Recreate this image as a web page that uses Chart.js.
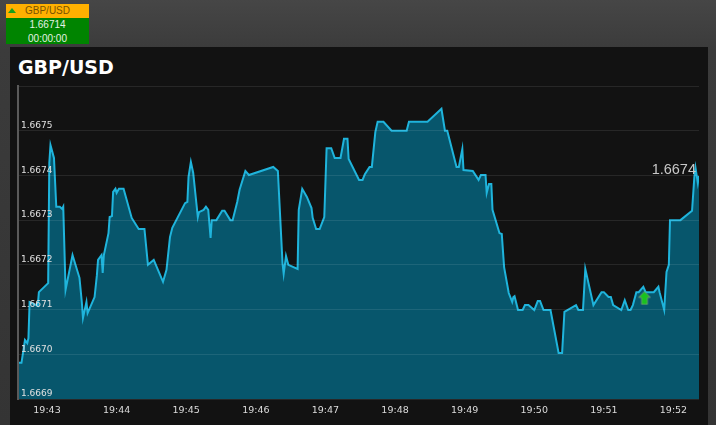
<!DOCTYPE html>
<html lang="en">
<head>
<meta charset="UTF-8">
<title>GBP/USD</title>
<script src="https://cdn.jsdelivr.net/npm/chart.js"></script>
<style>
    html, body { margin: 0; padding: 0; width: 716px; height: 425px; overflow: hidden; }
    body { background: linear-gradient(#464646, #3b3b3b 50px, #343434); font-family: 'Liberation Sans', sans-serif; position: relative; }
    .quote { position: absolute; left: 6px; top: 4px; width: 83px; height: 40px; background: #008400; color: #e4f2e4; font-size: 10px; text-align: center; }
    .quote .head { height: 14px; line-height: 14px; background: #ffb000; color: #7a5200; position: relative; }
    .quote .head i { position: absolute; left: 2px; top: 4px; width: 0; height: 0; border-left: 4px solid transparent; border-right: 4px solid transparent; border-bottom: 5px solid #1aa01a; }
    .quote .row { height: 13.5px; line-height: 13.5px; }
    .panel { position: absolute; left: 10px; top: 47px; width: 698px; height: 378px; background: #121212; }
    .panel h1 { position: absolute; left: 8px; top: 9px; margin: 0; color: #fff; font: bold 19px 'DejaVu Sans', sans-serif; }
    canvas { position: absolute; left: 0; top: 0; }
</style>
</head>
<body>
<div class="quote">
    <div class="head"><i></i>GBP/USD</div>
    <div class="row">1.66714</div>
    <div class="row">00:00:00</div>
</div>
<div class="panel">
    <h1>GBP/USD</h1>
    <canvas id="chart" width="698" height="378"></canvas>
</div>
<script>
    // seconds after 19:42:00
    const seconds = [35,38,41,43,44,45,52,53,61,62,63,66,68,71,73,74,76,82,88,90,91,94,95,101,103,104,107,108,109,113,114,116,117,119,120,122,126,133,139,144,147,152,160,163,166,168,179,181,182,184,186,190,191,195,197,199,201,202,206,211,213,218,220,224,226,231,234,255,259,263,264,266,268,276,277,280,284,288,289,292,295,299,301,305,308,313,316,319,320,329,332,334,338,340,343,345,350,357,370,372,388,400,403,405,413,415,418,419,427,432,434,438,439,441,443,444,450,452,454,458,461,462,463,466,470,472,475,480,483,485,488,494,501,504,506,516,518,522,524,531,538,540,544,546,548,555,558,561,563,565,568,570,574,576,583,587,588,592,594,596,597,606,616,618,619,621,622];
    const prices = [1.666981,1.666981,1.667032,1.667025,1.667036,1.667117,1.667108,1.667139,1.667159,1.667428,1.667468,1.667439,1.667330,1.667330,1.667325,1.667330,1.667144,1.667222,1.667171,1.667117,1.667081,1.667117,1.667092,1.667128,1.667177,1.667211,1.667222,1.667182,1.667222,1.667271,1.667307,1.667309,1.667363,1.667370,1.667361,1.667370,1.667370,1.667305,1.667280,1.667280,1.667200,1.667211,1.667162,1.667189,1.667262,1.667283,1.667338,1.667341,1.667397,1.667430,1.667406,1.667307,1.667318,1.667323,1.667330,1.667323,1.667260,1.667300,1.667300,1.667321,1.667321,1.667300,1.667300,1.667341,1.667368,1.667410,1.667401,1.667419,1.667410,1.667204,1.667180,1.667220,1.667200,1.667191,1.667323,1.667370,1.667352,1.667327,1.667305,1.667280,1.667280,1.667307,1.667461,1.667461,1.667439,1.667439,1.667482,1.667482,1.667437,1.667390,1.667390,1.667403,1.667419,1.667419,1.667497,1.667520,1.667520,1.667500,1.667500,1.667520,1.667520,1.667549,1.667500,1.667500,1.667419,1.667419,1.667459,1.667412,1.667410,1.667390,1.667401,1.667401,1.667361,1.667381,1.667381,1.667323,1.667271,1.667269,1.667195,1.667137,1.667117,1.667128,1.667130,1.667099,1.667099,1.667110,1.667110,1.667099,1.667119,1.667119,1.667099,1.667099,1.667003,1.667003,1.667095,1.667110,1.667099,1.667099,1.667191,1.667110,1.667139,1.667139,1.667128,1.667128,1.667110,1.667099,1.667121,1.667099,1.667099,1.667110,1.667139,1.667139,1.667151,1.667139,1.667139,1.667151,1.667139,1.667099,1.667184,1.667200,1.667300,1.667300,1.667321,1.667397,1.667417,1.667383,1.667399];
    const timeLabels = ['19:43','19:44','19:45','19:46','19:47','19:48','19:49','19:50','19:51','19:52'];
    const lastPrice = '1.6674';
    const arrowSecond = 575;
    const arrowPrice = 1.667126;

    // green up arrow used as the trade marker
    const arrow = document.createElement('canvas');
    arrow.width = 14;
    arrow.height = 15;
    const a = arrow.getContext('2d');
    a.fillStyle = '#19c21f';
    a.strokeStyle = 'rgba(150,150,150,0.6)';
    a.beginPath();
    a.moveTo(7, 1);
    a.lineTo(13, 7);
    a.lineTo(10, 7);
    a.lineTo(10, 14);
    a.lineTo(4, 14);
    a.lineTo(4, 7);
    a.lineTo(1, 7);
    a.closePath();
    a.fill();
    a.stroke();

    const lastLabel = {
        id: 'lastLabel',
        afterDatasetsDraw(chart) {
            const c = chart.ctx;
            c.save();
            c.font = "14.5px 'Liberation Sans'";
            c.fillStyle = '#c8c8c8';
            c.textAlign = 'right';
            c.textBaseline = 'bottom';
            c.fillText(lastPrice, chart.chartArea.right - 3, chart.scales.y.getPixelForValue(1.6674) + 2);
            c.restore();
        }
    };

    new Chart(document.getElementById('chart'), {
        type: 'line',
        data: {
            datasets: [{
                data: seconds.map((s, i) => ({ x: s, y: prices[i] })),
                borderColor: '#1fb4dc',
                backgroundColor: '#07566c',
                borderWidth: 2,
                pointRadius: 0,
                tension: 0,
                fill: 'start',
                order: 2
            }, {
                data: [{ x: arrowSecond, y: arrowPrice }],
                showLine: false,
                pointStyle: arrow,
                pointRadius: 7,
                order: 1
            }]
        },
        plugins: [lastLabel],
        options: {
            responsive: false,
            animation: false,
            layout: { padding: { left: 8, right: 9, top: 39, bottom: 0 } },
            plugins: { legend: { display: false }, tooltip: { enabled: false } },
            scales: {
                x: {
                    type: 'linear',
                    min: 35,
                    max: 622,
                    afterFit(scale) { scale.height = 26; },
                    grid: { display: false, drawTicks: false },
                    border: { display: false },
                    ticks: {
                        stepSize: 60,
                        includeBounds: false,
                        maxRotation: 0,
                        padding: 6,
                        color: '#dcdcdc',
                        font: { family: "'DejaVu Sans'", size: 9.5 },
                        callback: v => timeLabels[v / 60 - 1]
                    }
                },
                y: {
                    min: 1.6669,
                    max: 1.6676,
                    afterFit(scale) { scale.width = 0; },
                    grid: { color: 'rgba(255,255,255,0.09)', z: 1, drawTicks: false },
                    border: { color: '#5a5a5a', width: 2, z: 1 },
                    ticks: {
                        stepSize: 0.0001,
                        mirror: true,
                        padding: 3,
                        labelOffset: -5,
                        z: 2,
                        color: '#e0e0e0',
                        font: { family: "'DejaVu Sans'", size: 9 },
                        callback: v => v > 1.66755 ? '' : v.toFixed(4)
                    }
                }
            }
        }
    });
</script>
</body>
</html>
